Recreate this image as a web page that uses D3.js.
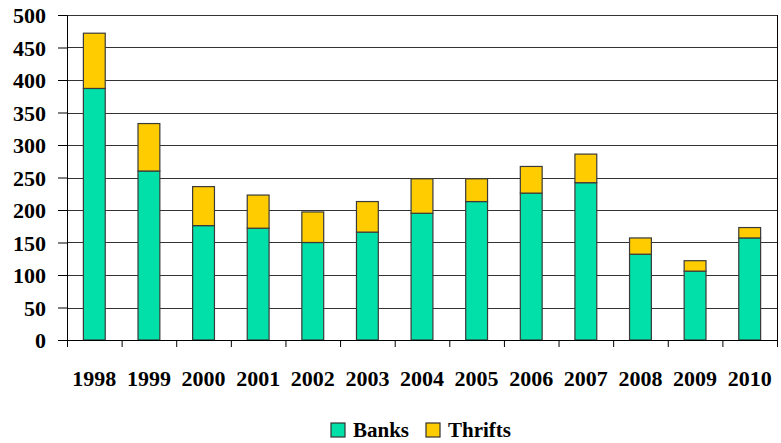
<!DOCTYPE html>
<html>
<head>
<meta charset="utf-8">
<script src="https://cdn.jsdelivr.net/npm/d3@7"></script>
<style>
  body { margin: 0; background: #fff; }
</style>
</head>
<body>
<div id="container"></div>
<script>
const w = 781,
  h = 443;

// values
const years = ['1998', '1999', '2000', '2001', '2002', '2003', '2004', '2005', '2006', '2007', '2008', '2009', '2010'];
const banks = [387, 260, 176, 172, 150, 166, 195, 213, 226, 242, 132, 106, 157];
const thrifts = [85, 73, 60, 51, 47, 47, 53, 35, 41, 44, 25, 16, 16];
const yTicks = [0, 50, 100, 150, 200, 250, 300, 350, 400, 450, 500];
const seriesNames = ['Banks', 'Thrifts'];
const colors = ['#00e0a8', '#ffcc00'];

const font = "'Liberation Serif', 'Times New Roman', serif";

const plotLeft = 67,
  plotRight = 777,
  plotTop = 15,
  plotBottom = 340;

const svg = d3.select('#container').append('svg').attr('width', w).attr('height', h);

const rows = years.map((y, i) => ({ year: y, Banks: banks[i], Thrifts: thrifts[i] }));
const stacked = d3.stack().keys(seriesNames)(rows);

const yScale = d3.scaleLinear().domain([0, 500]).range([plotBottom, plotTop]);
const xScale = d3
  .scaleBand()
  .domain(years)
  .range([plotLeft, plotRight])
  .paddingInner(0.6)
  .paddingOuter(0.3);
// boundaries between categories, for the tick marks
const xEdges = d3.scaleLinear().domain([0, years.length]).range([plotLeft, plotRight]);

function styleText(sel, size) {
  sel
    .style('font-family', font)
    .style('font-weight', 'bold')
    .style('font-size', size + 'px')
    .attr('fill', '#000');
}

// gridlines
svg
  .append('g')
  .selectAll('line')
  .data(yTicks.filter((d) => d > 0))
  .enter()
  .append('line')
  .attr('x1', plotLeft)
  .attr('x2', plotRight)
  .attr('y1', (d) => Math.round(yScale(d)) + 0.5)
  .attr('y2', (d) => Math.round(yScale(d)) + 0.5)
  .attr('stroke', '#333')
  .attr('stroke-width', 1);

// right frame line
svg
  .append('line')
  .attr('x1', plotRight + 0.5)
  .attr('x2', plotRight + 0.5)
  .attr('y1', plotTop)
  .attr('y2', plotBottom)
  .attr('stroke', '#000');

// bars
svg
  .append('g')
  .selectAll('g')
  .data(stacked)
  .enter()
  .append('g')
  .attr('fill', (d, i) => colors[i])
  .selectAll('rect')
  .data((d) => d)
  .enter()
  .append('rect')
  .attr('x', (d) => xScale(d.data.year))
  .attr('width', xScale.bandwidth())
  .attr('y', (d) => yScale(d[1]))
  .attr('height', (d) => yScale(d[0]) - yScale(d[1]))
  .attr('stroke', '#3a3a3a')
  .attr('stroke-width', 1.2);

// y axis
svg
  .append('g')
  .attr('transform', 'translate(' + plotLeft + ',0)')
  .call(d3.axisLeft(yScale).tickValues(yTicks).tickSize(9).tickSizeOuter(0).tickPadding(12))
  .call((g) => g.selectAll('path, line').attr('stroke', '#000'))
  .call((g) => styleText(g.selectAll('text').attr('dy', '0.36em'), 22));

// x axis: ticks at category boundaries
svg
  .append('g')
  .attr('transform', 'translate(0,' + plotBottom + ')')
  .call(
    d3
      .axisBottom(xEdges)
      .tickValues(d3.range(years.length + 1))
      .tickFormat('')
      .tickSize(7)
      .tickSizeOuter(0)
  )
  .call((g) => g.selectAll('path, line').attr('stroke', '#000'));

// x labels
svg
  .append('g')
  .attr('transform', 'translate(0,' + plotBottom + ')')
  .call(d3.axisBottom(xScale).tickSize(0).tickPadding(30))
  .call((g) => g.select('.domain').remove())
  .call((g) => styleText(g.selectAll('text'), 22));

// legend
const legend = svg.append('g').attr('transform', 'translate(331, 423)');
const legendX = [0, 95];
seriesNames.forEach((name, i) => {
  const item = legend.append('g').attr('transform', 'translate(' + legendX[i] + ',0)');
  item
    .append('rect')
    .attr('width', 14)
    .attr('height', 14)
    .attr('fill', colors[i])
    .attr('stroke', '#333')
    .attr('stroke-width', 1.2);
  item
    .append('text')
    .text(name)
    .attr('x', 22)
    .attr('y', 14)
    .call((t) => styleText(t, 21));
});
</script>
</body>
</html>
